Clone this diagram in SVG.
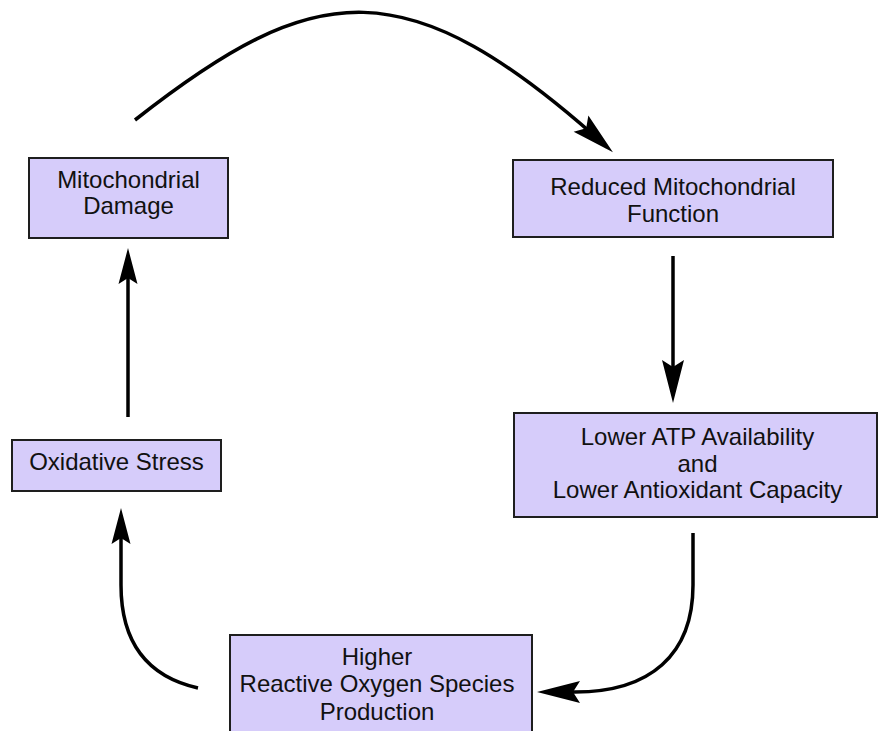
<svg xmlns="http://www.w3.org/2000/svg" width="878" height="731" viewBox="0 0 878 731">
<style>
.box{fill:#d6ccfa;stroke:#1e1e1e;stroke-width:2}
.lbl{font-family:"Liberation Sans",Arial,Helvetica,sans-serif;font-size:24px;fill:#111;text-anchor:middle}
.edge{fill:none;stroke:#000;stroke-width:3.5}
</style>
<defs>
<marker id="big" viewBox="-40 -12 50 24" refX="0" refY="0" markerWidth="50" markerHeight="24" markerUnits="userSpaceOnUse" orient="auto">
<path d="M8,0 L-35,-11 L-28,0 L-35,11 Z" fill="#000"/>
</marker>
<marker id="small" viewBox="-34 -10 44 20" refX="0" refY="0" markerWidth="44" markerHeight="20" markerUnits="userSpaceOnUse" orient="auto">
<path d="M8,0 L-28,-9.5 L-22,0 L-28,9.5 Z" fill="#000"/>
</marker>
</defs>
<rect width="878" height="731" fill="#fff"/>
<g id="connectors">
<path class="edge" d="M135,120 C316,-22 406,-34 607,147" marker-end="url(#big)"/>
<path class="edge" d="M673,256 L673,395" marker-end="url(#big)"/>
<path class="edge" d="M693,533 L693,585 C693,655 650,692 575,692 L545,692" marker-end="url(#big)"/>
<path class="edge" d="M198,688 C145,676 121,640 121,585 L121,516" marker-end="url(#small)"/>
<path class="edge" d="M128,417 L128,256" marker-end="url(#small)"/>
</g>
<g id="node-mito-damage">
<rect class="box" x="29" y="158" width="199" height="80"/>
<text class="lbl" x="128.5" y="188">Mitochondrial</text>
<text class="lbl" x="128.5" y="214">Damage</text>
</g>
<g id="node-reduced-function">
<rect class="box" x="513" y="160" width="320" height="77"/>
<text class="lbl" x="673" y="195">Reduced Mitochondrial</text>
<text class="lbl" x="673" y="222">Function</text>
</g>
<g id="node-lower-atp">
<rect class="box" x="514" y="413" width="363" height="104"/>
<text class="lbl" x="697.5" y="445">Lower ATP Availability</text>
<text class="lbl" x="697.5" y="472">and</text>
<text class="lbl" x="697.5" y="498">Lower Antioxidant Capacity</text>
</g>
<g id="node-higher-ros">
<rect class="box" x="230" y="635" width="302" height="100"/>
<text class="lbl" x="377" y="665">Higher</text>
<text class="lbl" x="377" y="692">Reactive Oxygen Species</text>
<text class="lbl" x="377" y="720">Production</text>
</g>
<g id="node-oxidative-stress">
<rect class="box" x="12" y="440" width="209" height="51"/>
<text class="lbl" x="116.5" y="470">Oxidative Stress</text>
</g>
</svg>
